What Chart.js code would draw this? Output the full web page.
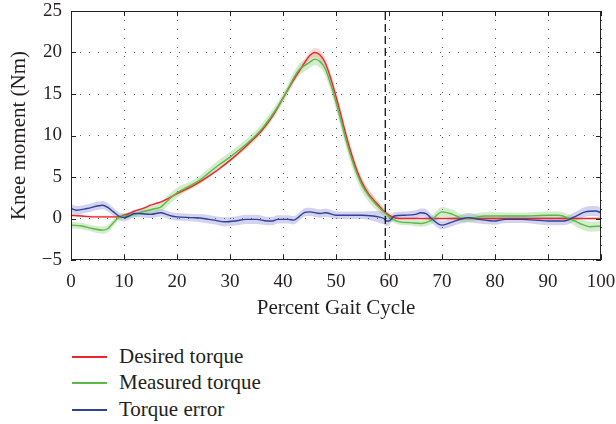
<!DOCTYPE html>
<html><head><meta charset="utf-8">
<script src="https://cdn.jsdelivr.net/npm/chart.js@4"></script>
<style>
body{margin:0;background:#fff;width:616px;height:424px;overflow:hidden;font-family:"Liberation Serif",serif;color:#231f20}
#wrap{position:absolute;left:0;top:0;width:616px;height:330px}
.leg{position:absolute;left:72px;font-size:21px;line-height:24px;height:24px;white-space:nowrap}
.leg span{display:inline-block;width:35px;height:2px;vertical-align:middle;margin-right:12px;position:relative;top:-1px}
</style></head>
<body>
<div id="wrap"><canvas id="c" width="616" height="330"></canvas></div>
<div id="legend"></div>
<script>
// ---- data ----
const xDesired = [0,2,4,6,8,9,10,11,12,13,14,15,16,17,18,20,22,24,26,28,30,32,34,36,38,40,41,42,43,44,45,46,47,48,49,50,51,52,53,54,55,56,57,58,59,60,61,62,70,80,90,100];
const desired  = [0.4,0.3,0.2,0.2,0.2,0.2,0.4,0.6,0.9,1.1,1.3,1.6,1.8,2.0,2.3,3.0,3.6,4.3,5.1,6.0,7.0,8.1,9.3,10.6,12.3,14.5,15.6,16.7,17.7,18.7,19.6,20.0,19.7,18.7,16.9,14.7,12.3,9.8,7.6,5.7,4.2,3.1,2.3,1.6,0.9,0.4,0.1,0,0,0,0,0];
const desiredSd = [0.15,0.15,0.15,0.15,0.15,0.15,0.15,0.15,0.15,0.15,0.15,0.15,0.15,0.15,0.15,0.2,0.2,0.2,0.2,0.2,0.2,0.2,0.2,0.2,0.2,0.3,0.3,0.35,0.4,0.45,0.5,0.55,0.6,0.65,0.7,0.7,0.7,0.7,0.7,0.65,0.6,0.55,0.5,0.45,0.4,0.3,0.2,0.1,0.1,0.1,0.1,0.1];

const xMeasured = [0,2,4,6,7,8,9,10,12,14,16,17,18,20,22,24,26,28,30,32,34,36,38,40,41,42,43,44,45,46,47,48,49,50,51,52,53,54,55,56,57,58,59,60,61,62,64,66,68,70,72,74,76,78,80,85,90,92,94,96,98,100];
const measured  = [-0.8,-0.9,-1.2,-1.4,-1.2,-0.5,0.1,0.3,0.5,0.9,1.2,1.4,2.0,3.1,3.8,4.5,5.5,6.5,7.4,8.4,9.5,10.8,12.5,14.5,15.7,16.9,17.9,18.4,18.8,19.2,18.9,18.0,16.2,14.0,11.6,9.2,7.1,5.3,3.9,2.9,2.1,1.4,0.8,0.2,-0.2,-0.4,-0.5,-0.6,-0.2,0.8,0.5,0.0,0.1,0.3,0.3,0.3,0.4,0.4,0.0,-0.6,-1.0,-0.9];
const measuredSd = [0.4,0.4,0.4,0.45,0.45,0.4,0.35,0.35,0.35,0.4,0.45,0.5,0.6,0.6,0.5,0.5,0.55,0.6,0.6,0.6,0.6,0.6,0.6,0.6,0.6,0.65,0.7,0.7,0.7,0.7,0.75,0.8,0.85,0.9,0.9,0.9,0.9,0.85,0.8,0.75,0.7,0.6,0.5,0.4,0.35,0.35,0.35,0.4,0.5,0.6,0.55,0.45,0.45,0.45,0.45,0.4,0.45,0.45,0.5,0.6,0.6,0.6];

const xError = [0,1,3,6,7,8,9,10,11,12,13,15,17,18,19,20,23,25,27,29,31,33,35,37,38,39,41,42,43,44,45,47,48,50,55,57,58,59,59.5,60,61,63,65,66,67,68,70,72,74,75,77,80,82,85,90,93,95,97,99,100];
const error  = [1.2,1.0,1.2,1.6,1.3,0.8,0.3,0.1,0.3,0.6,0.6,0.5,0.7,0.5,0.3,0.2,0.1,0.0,-0.2,-0.4,-0.3,-0.1,-0.1,-0.3,-0.3,-0.1,-0.1,-0.2,0.2,0.7,0.8,0.6,0.7,0.4,0.4,0.3,0.2,0.0,-0.3,-0.3,0.3,0.4,0.5,0.7,0.6,0.0,-0.8,-0.4,0.0,0.1,-0.1,-0.3,-0.1,-0.1,-0.3,-0.3,0.2,0.8,0.9,0.7];
const errorSd = [0.55,0.5,0.5,0.5,0.5,0.5,0.45,0.45,0.45,0.45,0.45,0.45,0.45,0.45,0.45,0.45,0.45,0.5,0.5,0.55,0.55,0.55,0.55,0.5,0.5,0.5,0.5,0.5,0.5,0.5,0.5,0.5,0.5,0.45,0.45,0.6,0.7,0.7,0.6,0.5,0.45,0.45,0.5,0.5,0.5,0.5,0.5,0.5,0.55,0.55,0.5,0.45,0.45,0.45,0.5,0.5,0.55,0.6,0.6,0.6];

const swingStart = 59.3;
const xTicks = [0,10,20,30,40,50,60,70,80,90,100];
const yTicks = [-5,0,5,10,15,20,25];
const seriesNames = ["Desired torque","Measured torque","Torque error"];
const seriesColors = ["#e8262b","#5cb847","#2d4199"];
const bandColors = ["rgba(250,150,150,0.35)","rgba(130,200,110,0.35)","rgba(130,130,210,0.35)"];

// ---- build ----
function pts(xs, ys, off){ return xs.map((x,i)=>({x:x, y:ys[i] + (off? off[i]:0)})); }
function neg(a){ return a.map(v=>-v); }

const groups = [[xDesired,desired,desiredSd],[xMeasured,measured,measuredSd],[xError,error,errorSd]];
const datasets = [];
groups.forEach((g,k)=>{
  datasets.push({label:'lo'+k, data:pts(g[0],g[1],neg(g[2])), borderWidth:0, pointRadius:0, fill:false, tension:0.4, cubicInterpolationMode:'monotone', order:10});
  datasets.push({label:'hi'+k, data:pts(g[0],g[1],g[2]), borderWidth:0, pointRadius:0, fill:'-1', backgroundColor:bandColors[k], tension:0.4, cubicInterpolationMode:'monotone', order:10});
});
groups.forEach((g,k)=>{
  datasets.push({label:seriesNames[k], data:pts(g[0],g[1]), borderColor:seriesColors[k], borderWidth:1.4, pointRadius:0, fill:false, tension:0.4, cubicInterpolationMode:'monotone', order:k===0?3:(k===1?2:1)});
});
datasets.push({label:'swing', data:[{x:swingStart,y:-5},{x:swingStart,y:25}], borderColor:'#111', borderWidth:1.3, borderDash:[8,4], pointRadius:0, fill:false, order:0});

const FONT = "'Liberation Serif', serif";
const frame = {
  id:'frame',
  afterDatasetsDraw(chart){
    const {ctx, chartArea:a, scales:{x,y}} = chart;
    ctx.save();
    ctx.strokeStyle = '#222'; ctx.lineWidth = 1;
    ctx.strokeRect(a.left+0.5, a.top+0.5, a.right-a.left-1, a.bottom-a.top-1);
    ctx.beginPath();
    xTicks.forEach(v=>{ const px = Math.round(x.getPixelForValue(v))+0.5; ctx.moveTo(px,a.bottom); ctx.lineTo(px,a.bottom-5); ctx.moveTo(px,a.top); ctx.lineTo(px,a.top+5); });
    yTicks.forEach(v=>{ const py = Math.round(y.getPixelForValue(v))+0.5; ctx.moveTo(a.left,py); ctx.lineTo(a.left+5,py); ctx.moveTo(a.right,py); ctx.lineTo(a.right-5,py); });
    ctx.stroke();
    ctx.restore();
  }
};

new Chart(document.getElementById('c'), {
  type:'line',
  data:{datasets},
  options:{
    responsive:false, animation:false,
    layout:{padding:{top:11,right:15,left:0,bottom:0}},
    plugins:{legend:{display:false}, tooltip:{enabled:false}},
    scales:{
      x:{type:'linear', min:0, max:100,
        afterFit(s){ s.height = 70; s.paddingLeft = 0; s.paddingRight = 0; },
        afterBuildTicks(s){ s.ticks = xTicks.map(v=>({value:v})); },
        grid:{color:'#555', drawTicks:false, lineWidth:1},
        border:{display:false, dash:[1,8]},
        ticks:{padding:11, color:'#231f20', font:{family:FONT, size:19}, maxRotation:0},
        title:{display:true, text:'Percent Gait Cycle', color:'#231f20', font:{family:FONT, size:21}, padding:{top:0,bottom:9}}
      },
      y:{min:-5, max:25,
        afterFit(s){ s.width = 71; s.paddingTop = 0; s.paddingBottom = 0; },
        afterBuildTicks(s){ s.ticks = yTicks.map(v=>({value:v})); },
        grid:{color:'#555', drawTicks:false, lineWidth:1},
        border:{display:false, dash:[1,8]},
        ticks:{padding:9, color:'#231f20', font:{family:FONT, size:19}, callback:v=> v<0 ? '\u2212'+Math.abs(v) : String(v)},
        title:{display:true, text:'Knee moment (Nm)', color:'#231f20', font:{family:FONT, size:21}, padding:{top:7,bottom:0}}
      }
    }
  },
  plugins:[frame]
});

// legend
const legTops = [344, 370, 397];
const L = document.getElementById('legend');
seriesNames.forEach((n,i)=>{
  const d = document.createElement('div');
  d.className='leg'; d.style.top = legTops[i]+'px';
  d.innerHTML = '<span style="background:'+seriesColors[i]+'"></span>'+n;
  L.appendChild(d);
});
</script>
</body></html>
